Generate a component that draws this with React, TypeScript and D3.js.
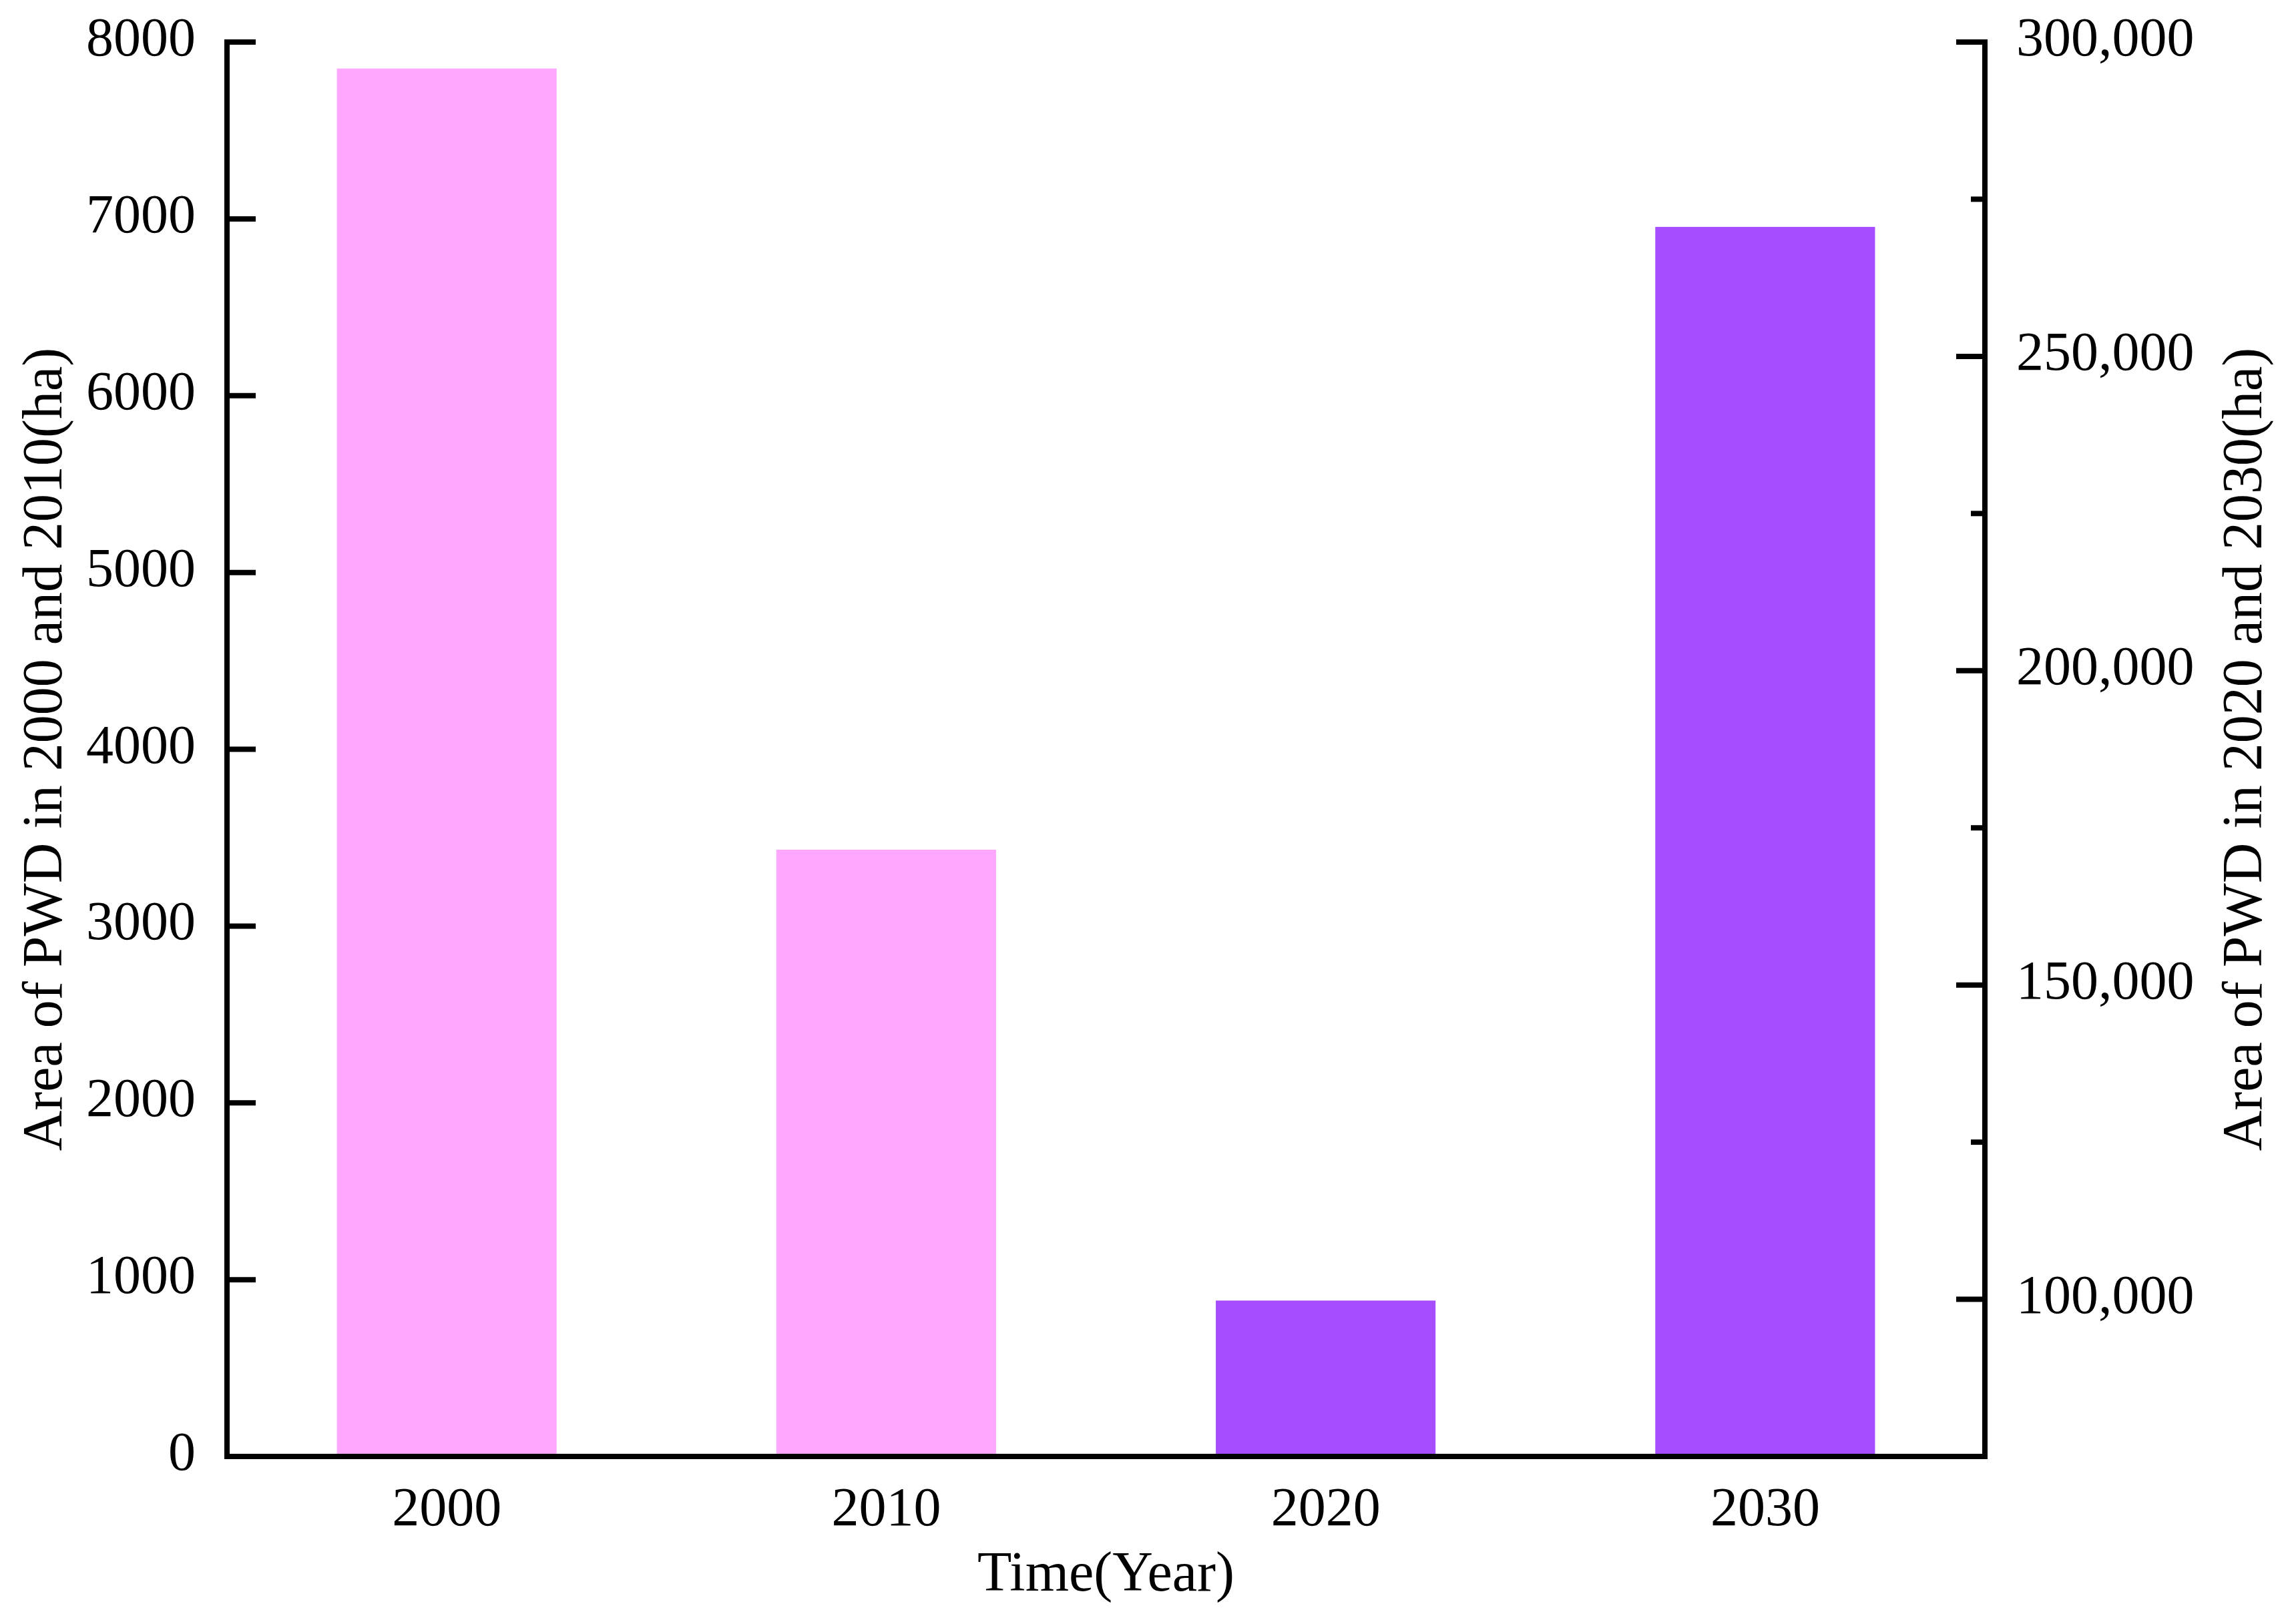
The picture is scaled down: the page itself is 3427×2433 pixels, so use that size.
import React from "react";
import * as d3 from "d3";

const years = ["2000", "2010", "2020", "2030"];
const leftYears = ["2000", "2010"];
const leftValues = [7850, 3432];
const rightYears = ["2020", "2030"];
const rightValues = [99800, 270600];
const leftTicks = [0, 1000, 2000, 3000, 4000, 5000, 6000, 7000, 8000];
const rightTicks = [100000, 150000, 200000, 250000, 300000];
const rightMinorTicks = [125000, 175000, 225000, 275000];

const W = 3427;
const H = 2433;
const X0 = 340;
const X1 = 2973;
const Y0 = 2182;
const Y1 = 63;
const FONT = "'Liberation Serif', 'Times New Roman', serif";
const PINK = "#FFA6FE";
const PURPLE = "#A64DFF";

export default function App() {
  const x = d3.scaleBand<string>().domain(years).range([X0, X1]).paddingInner(0.5).paddingOuter(0.25);
  const yL = d3.scaleLinear().domain([0, 8000]).range([Y0, Y1]);
  const yR = d3.scaleLinear().domain([75000, 300000]).range([Y0, Y1]);
  const fmt = d3.format(",");
  const bw = x.bandwidth();

  return (
    <svg width={W} height={H} style={{ position: "absolute", left: 0, top: 0, background: "#fff" }}>
      <rect x={0} y={0} width={W} height={H} fill="#fff" />
      {leftYears.map((yr, i) => (
        <rect key={yr} x={x(yr)} y={yL(leftValues[i])} width={bw} height={Y0 - yL(leftValues[i])} fill={PINK} />
      ))}
      {rightYears.map((yr, i) => (
        <rect key={yr} x={x(yr)} y={yR(rightValues[i])} width={bw} height={Y0 - yR(rightValues[i])} fill={PURPLE} />
      ))}
      <line x1={X0} x2={X0} y1={Y1 - 4} y2={Y0 + 4} stroke="#000" strokeWidth={8} />
      <line x1={X1} x2={X1} y1={Y1 - 4} y2={Y0 + 4} stroke="#000" strokeWidth={8} />
      <line x1={X0 - 4} x2={X1 + 4} y1={Y0} y2={Y0} stroke="#000" strokeWidth={8} />
      {leftTicks.map((t) => (
        <g key={t}>
          <line x1={X0} x2={X0 + 43} y1={yL(t)} y2={yL(t)} stroke="#000" strokeWidth={8} />
          <text x={X0 - 47} y={yL(t) + 20} textAnchor="end" fontFamily={FONT} fontSize={82} fill="#000">
            {t}
          </text>
        </g>
      ))}
      {rightTicks.map((t) => (
        <g key={t}>
          <line x1={X1} x2={X1 - 43} y1={yR(t)} y2={yR(t)} stroke="#000" strokeWidth={8} />
          <text x={X1 + 47} y={yR(t) + 20} textAnchor="start" fontFamily={FONT} fontSize={82} fill="#000">
            {fmt(t)}
          </text>
        </g>
      ))}
      {rightMinorTicks.map((t) => (
        <line key={t} x1={X1} x2={X1 - 21} y1={yR(t)} y2={yR(t)} stroke="#000" strokeWidth={8} />
      ))}
      {years.map((yr) => (
        <text key={yr} x={(x(yr) as number) + bw / 2} y={2285} textAnchor="middle" fontFamily={FONT} fontSize={82} fill="#000">
          {yr}
        </text>
      ))}
      <text x={(X0 + X1) / 2} y={2383} textAnchor="middle" fontFamily={FONT} fontSize={84} fill="#000">
        Time(Year)
      </text>
      <text transform={`translate(92, ${(Y0 + Y1) / 2}) rotate(-90)`} textAnchor="middle" fontFamily={FONT} fontSize={84} fill="#000">
        Area of PWD in 2000 and 2010(ha)
      </text>
      <text transform={`translate(3387, ${(Y0 + Y1) / 2}) rotate(-90)`} textAnchor="middle" fontFamily={FONT} fontSize={84} fill="#000">
        Area of PWD in 2020 and 2030(ha)
      </text>
    </svg>
  );
}
